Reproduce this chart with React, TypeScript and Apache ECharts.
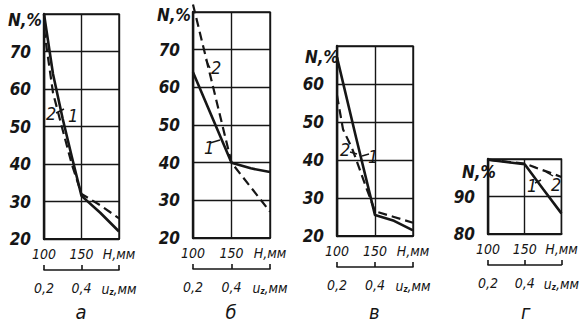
import React, { useEffect, useRef } from "react";
import * as echarts from "echarts";

// H, mm (x values) and N, % readings per panel
const panelA_curve1 = [[100, 80], [112, 64], [125, 52], [137, 42], [150, 31.5], [175, 27], [200, 22]];
const panelA_curve2 = [[100, 76], [112, 59], [125, 49], [137, 40], [150, 32], [175, 29], [200, 25.5]];
const panelB_curve1 = [[100, 64], [125, 52], [150, 40], [175, 38.5], [200, 37.5]];
const panelB_curve2 = [[100, 82], [125, 61], [150, 40], [175, 33.5], [200, 27]];
const panelV_curve1 = [[100, 67], [125, 46], [150, 25.5], [175, 24], [200, 21.5]];
const panelV_curve2 = [[100, 57], [108, 48], [120, 43], [138, 33], [150, 26.5], [175, 25], [200, 23.5]];
const panelG_curve1 = [[100, 99.8], [150, 98.6], [175, 92], [200, 85.5]];
const panelG_curve2 = [[100, 99.8], [150, 98.8], [165, 97.7], [185, 96.3], [200, 95.2]];

const hTicks = ["100", "150", "H,мм"];
const uTicks = ["0,2", "0,4", "u_z"];
const panelLetters = ["а", "б", "в", "г"];
const yRanges = [[20, 80], [20, 80], [20, 70], [80, 100]];

const INK = "#161616";
const FONT = "'Liberation Sans Narrow', 'DejaVu Sans Condensed', sans-serif";

const grids = [
  { left: 44, top: 14, width: 75, height: 225 },
  { left: 193, top: 12, width: 77, height: 226 },
  { left: 337, top: 46, width: 76, height: 190 },
  { left: 488, top: 159, width: 78, height: 75 },
];

const curves = [
  [panelA_curve1, panelA_curve2],
  [panelB_curve1, panelB_curve2],
  [panelV_curve1, panelV_curve2],
  [panelG_curve1, panelG_curve2],
];

export default function App() {
  const ref = useRef<HTMLDivElement>(null);
  useEffect(() => {
    if (!ref.current) return;
    const chart = echarts.init(ref.current, null, { renderer: "svg" });

    const xAxis: any[] = [];
    const yAxis: any[] = [];
    const series: any[] = [];
    const graphic: any[] = [];

    grids.forEach((g, i) => {
      xAxis.push({
        type: "value",
        gridIndex: i,
        min: 100,
        max: 200,
        interval: 50,
        axisLine: { show: true, lineStyle: { color: INK, width: 2.2 } },
        axisTick: { show: false },
        splitLine: { show: true, lineStyle: { color: INK, width: 1.4 } },
        axisLabel: {
          margin: 8,
          color: INK,
          fontFamily: FONT,
          fontStyle: "italic",
          fontSize: 14,
          formatter: (v: number) => hTicks[Math.round((v - 100) / 50)] ?? "",
        },
      });
      xAxis.push({
        type: "value",
        gridIndex: i,
        position: "bottom",
        offset: 31,
        min: 2,
        max: 6,
        interval: 2,
        axisLine: { show: true, lineStyle: { color: INK, width: 1.6 } },
        axisTick: { show: true, inside: true, length: 5, lineStyle: { color: INK, width: 1.6 } },
        splitLine: { show: false },
        axisLabel: {
          margin: 11,
          color: INK,
          fontFamily: FONT,
          fontStyle: "italic",
          fontSize: 14,
          formatter: (v: number) => {
            const t = uTicks[Math.round((v - 2) / 2)] ?? "";
            return t === "u_z" ? "{a|u}{s|z}{a|,мм}" : "{a|" + t + "}";
          },
          rich: {
            a: { fontFamily: FONT, fontStyle: "italic", fontSize: 14, color: INK },
            s: { fontFamily: FONT, fontStyle: "italic", fontWeight: "bold", fontSize: 8, color: INK, padding: [7, 0, 0, 0] },
          },
        },
      });
      const [ymin, ymax] = yRanges[i];
      yAxis.push({
        type: "value",
        gridIndex: i,
        min: ymin,
        max: ymax,
        interval: 10,
        axisLine: { show: true, lineStyle: { color: INK, width: 2.4 } },
        axisTick: { show: false },
        splitLine: { show: true, lineStyle: { color: INK, width: 1.4 } },
        axisLabel: {
          margin: 13,
          color: INK,
          fontFamily: FONT,
          fontStyle: "italic",
          fontWeight: "bold",
          fontSize: 17,
          padding: [6, 0, 0, 0],
          formatter: (v: number) => (v === ymax ? "" : String(v)),
        },
      });
      const [c1, c2] = curves[i];
      series.push({
        type: "line",
        xAxisIndex: i * 2,
        yAxisIndex: i,
        data: c1,
        showSymbol: false,
        clip: false,
        lineStyle: { color: INK, width: 2.6 },
      });
      series.push({
        type: "line",
        xAxisIndex: i * 2,
        yAxisIndex: i,
        data: c2,
        showSymbol: false,
        clip: false,
        lineStyle: { color: INK, width: 2.2, type: [9, 5] },
      });

      graphic.push({
        type: "text",
        left: g.left + g.width / 2 - 6,
        top: 302,
        style: { text: panelLetters[i], font: `italic 20px ${FONT}`, fill: INK },
      });
    });

    const nPos = [
      [8, 11],
      [157, 6],
      [305, 48],
      [462, 163],
    ];
    nPos.forEach(([x, y]) =>
      graphic.push({
        type: "text",
        left: x,
        top: y,
        style: { text: "N,%", font: `italic bold 17px ${FONT}`, fill: INK },
      })
    );

    const notes = [
      ["2", 46, 104],
      ["1", 68, 106],
      ["2", 211, 58],
      ["1", 204, 138],
      ["2", 340, 140],
      ["1", 368, 147],
      ["1", 527, 176],
      ["2", 551, 175],
    ];
    notes.forEach(([t, x, y]) =>
      graphic.push({
        type: "text",
        left: x,
        top: y,
        style: { text: t as string, font: `italic 18px ${FONT}`, fill: INK },
      })
    );
    const leaders = [
      [56, 113, 64, 109],
      [206, 60, 210, 68],
      [210, 143, 220, 140],
      [350, 152, 357, 154],
      [362, 156, 369, 154],
      [535, 183, 541, 180],
      [546, 172, 553, 176],
    ];
    leaders.forEach(([x1, y1, x2, y2]) =>
      graphic.push({
        type: "line",
        shape: { x1, y1, x2, y2 },
        style: { stroke: INK, lineWidth: 1.4 },
      })
    );

    chart.setOption({
      animation: false,
      backgroundColor: "#ffffff",
      grid: grids.map((g) => ({ ...g, show: true, borderColor: INK, borderWidth: 1.4, containLabel: false })),
      xAxis,
      yAxis,
      series,
      graphic,
    });
    return () => chart.dispose();
  }, []);
  return <div ref={ref} style={{ position: "fixed", left: 0, top: 0, width: 582, height: 332 }} />;
}
